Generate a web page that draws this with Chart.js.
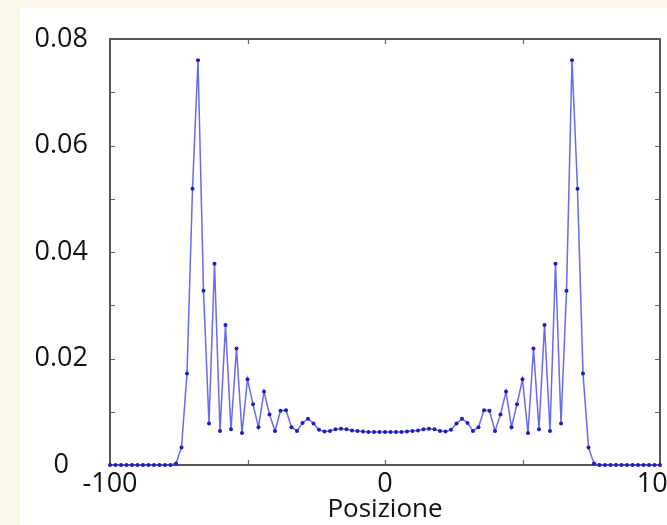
<!DOCTYPE html>
<html>
<head>
<meta charset="utf-8">
<script src="https://cdn.jsdelivr.net/npm/chart.js@4"></script>
<style>
  html, body { margin: 0; padding: 0; background: #FAF6E8; }
  #wrap { width: 667px; height: 525px; position: relative; }
  canvas { display: block; }
</style>
</head>
<body>
<div id="wrap"><canvas id="c" width="667" height="525"></canvas></div>
<script>
// Positions (categories)
const positions = [
  -100, -98, -96, -94, -92, -90, -88, -86, -84, -82, -80, -78, -76, -74, -72, -70, -68, -66, -64, -62,
  -60, -58, -56, -54, -52, -50, -48, -46, -44, -42, -40, -38, -36, -34, -32, -30, -28, -26, -24, -22,
  -20, -18, -16, -14, -12, -10, -8, -6, -4, -2, 0,
  2, 4, 6, 8, 10, 12, 14, 16, 18, 20, 22, 24, 26, 28, 30, 32, 34, 36, 38, 40,
  42, 44, 46, 48, 50, 52, 54, 56, 58, 60, 62, 64, 66, 68, 70, 72, 74, 76, 78, 80,
  82, 84, 86, 88, 90, 92, 94, 96, 98, 100
];
// Probability values
const probability = [
  0, 0, 0, 0, 0, 0, 0, 0, 0, 0, 0, 0, 0.0003, 0.0033, 0.0172, 0.0519, 0.0760, 0.0327, 0.0078, 0.0378,
  0.0064, 0.0263, 0.0067, 0.0219, 0.0060, 0.0161, 0.0114, 0.0071, 0.0138, 0.0095, 0.0064, 0.0102, 0.0103, 0.0071, 0.0064, 0.0079, 0.0087, 0.0078, 0.0066, 0.0063,
  0.0064, 0.0067, 0.0068, 0.0067, 0.0065, 0.0064, 0.0063, 0.0062, 0.0062, 0.0062, 0.0062,
  0.0062, 0.0062, 0.0062, 0.0063, 0.0064, 0.0065, 0.0067, 0.0068, 0.0067, 0.0064, 0.0063, 0.0066, 0.0078, 0.0087, 0.0079, 0.0064, 0.0071, 0.0103, 0.0102, 0.0064,
  0.0095, 0.0138, 0.0071, 0.0114, 0.0161, 0.0060, 0.0219, 0.0067, 0.0263, 0.0064, 0.0378, 0.0078, 0.0327, 0.0760, 0.0519, 0.0172, 0.0033, 0.0003, 0, 0,
  0, 0, 0, 0, 0, 0, 0, 0, 0, 0
];
// Tick values
const xLabelTicks = [-100, 0, 100];
const xMarkTicks = [-50, 0, 50];
const yLabelTicks = [0, 0.02, 0.04, 0.06, 0.08];
const yMarkTicks = [0.01, 0.02, 0.03, 0.04, 0.05, 0.06, 0.07];
const xTitle = 'Posizione';

const points = positions.map((p, i) => ({ x: p, y: probability[i] }));

const FONT = "'Open Sans', 'DejaVu Sans', sans-serif";

const panelPlugin = {
  id: 'panel',
  beforeDraw(chart) {
    const ctx = chart.ctx;
    ctx.save();
    ctx.fillStyle = '#FAF6E8';
    ctx.fillRect(0, 0, chart.width, chart.height);
    ctx.fillStyle = '#FFFFFF';
    ctx.fillRect(20, 8, chart.width - 20, chart.height - 8);
    ctx.restore();
  },
  beforeDatasetsDraw(chart) {
    const { ctx, chartArea: a, scales: { x, y } } = chart;
    ctx.save();
    ctx.strokeStyle = '#666666';
    ctx.lineWidth = 1.2;
    const tl = 5;
    ctx.beginPath();
    xMarkTicks.forEach(v => {
      const px = Math.round(x.getPixelForValue(v)) + 0.5;
      ctx.moveTo(px, a.bottom); ctx.lineTo(px, a.bottom - tl);
      ctx.moveTo(px, a.top); ctx.lineTo(px, a.top + tl);
    });
    yMarkTicks.forEach(v => {
      const py = Math.round(y.getPixelForValue(v)) + 0.5;
      ctx.moveTo(a.left, py); ctx.lineTo(a.left + tl, py);
      ctx.moveTo(a.right, py); ctx.lineTo(a.right - tl, py);
    });
    ctx.stroke();
    ctx.lineWidth = 2;
    ctx.strokeStyle = '#555555';
    ctx.strokeRect(a.left, a.top, a.right - a.left, a.bottom - a.top);
    ctx.restore();
  }
};

new Chart(document.getElementById('c'), {
  type: 'line',
  data: {
    datasets: [{
      data: points,
      borderColor: 'rgba(90, 90, 232, 0.9)',
      borderWidth: 1.5,
      pointRadius: 2,
      pointBackgroundColor: '#1c1cc4',
      pointBorderColor: '#1c1cc4',
      pointBorderWidth: 0,
      tension: 0,
      clip: false
    }]
  },
  options: {
    responsive: false,
    animation: false,
    devicePixelRatio: 1,
    layout: { padding: { left: 12, right: 7, top: 39, bottom: 0 } },
    plugins: { legend: { display: false }, tooltip: { enabled: false } },
    scales: {
      x: {
        type: 'linear',
        min: -100, max: 100,
        afterBuildTicks(scale) { scale.ticks = xLabelTicks.map(v => ({ value: v })); },
        afterFit(scale) { scale.height = 60; scale.paddingLeft = 0; scale.paddingRight = 0; },
        grid: { display: false, drawTicks: false },
        border: { display: false },
        ticks: {
          padding: 3,
          color: '#111111',
          maxRotation: 0,
          autoSkip: false,
          font: { family: FONT, size: 27 },
          callback: v => String(v)
        },
        title: {
          display: true,
          text: xTitle,
          color: '#111111',
          padding: { top: 0, bottom: 0 },
          font: { family: FONT, size: 26 }
        }
      },
      y: {
        type: 'linear',
        min: 0, max: 0.08,
        afterBuildTicks(scale) { scale.ticks = yLabelTicks.map(v => ({ value: v })); },
        afterFit(scale) { scale.width = 98; scale.paddingTop = 0; scale.paddingBottom = 0; },
        grid: { display: false, drawTicks: false },
        border: { display: false },
        ticks: {
          padding: 22,
          crossAlign: 'center',
          color: '#111111',
          autoSkip: false,
          font: { family: FONT, size: 27 },
          callback: v => (v === 0 ? '0' : Number(v).toFixed(2))
        }
      }
    }
  },
  plugins: [panelPlugin]
});
</script>
</body>
</html>
